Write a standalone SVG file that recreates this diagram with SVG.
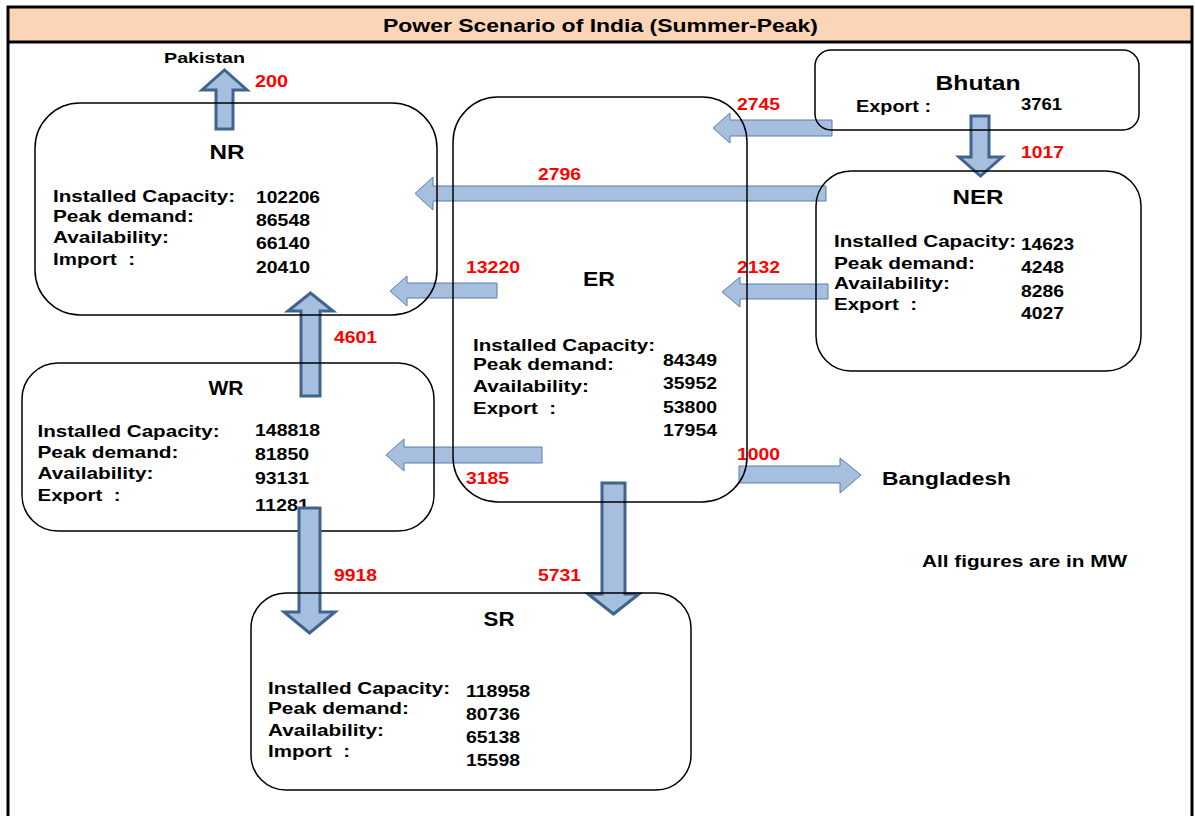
<svg xmlns="http://www.w3.org/2000/svg" width="1195" height="816" viewBox="0 0 1195 816">
<style>
text{font-family:"Liberation Sans",Arial,sans-serif;font-weight:bold;fill:#000}
.b{font-size:17px}
.p{white-space:pre}
.h{font-size:20px}
.r{font-size:17px;fill:#ff0000}
.box{fill:none;stroke:#000;stroke-width:1.5}
.ha{fill:#a7bfde;stroke:#5b7db0;stroke-width:1}
.va{fill:#a7bfde;stroke:#41648f;stroke-width:3;stroke-linejoin:miter}
</style>
<rect x="0" y="0" width="1195" height="816" fill="#fff"/>
<g id="frame">
<rect x="8" y="7" width="1184" height="35" fill="#fbd5b5"/>
<rect x="8" y="7" width="1184" height="830" fill="none" stroke="#000" stroke-width="3"/>
<line x1="8" y1="42" x2="1192" y2="42" stroke="#000" stroke-width="3"/>
<text x="383" y="32" style="font-size:18px" textLength="435" lengthAdjust="spacingAndGlyphs">Power Scenario of India (Summer-Peak)</text>
</g>
<g id="connectors">
<polygon class="ha" points="832,120 730,120 730,113 713,128 730,143 730,136 832,136"/>
<polygon class="ha" points="826,186 433,186 433,177 415,193.5 433,210 433,201 826,201"/>
<polygon class="ha" points="497,283 407,283 407,276 390,291 407,306 407,298 497,298"/>
<polygon class="ha" points="828,284 740,284 740,277 722,292 740,307 740,299 828,299"/>
<polygon class="ha" points="542,447 404,447 404,439 386,455 404,471 404,463 542,463"/>
<polygon class="ha" points="739,466 840,466 840,458 861,475 840,493 840,483 739,483"/>
<polygon class="va" points="216,129 216,90 202,90 224.5,70 247,90 233,90 233,129"/>
<polygon class="va" points="301,396 301,311 288,311 310.5,293 333,311 320,311 320,396"/>
<polygon class="va" points="602,483 602,594 588,594 613.5,614 639,594 625,594 625,483"/>
<polygon class="va" points="971,116 971,157 959,157 980.5,176 1002,157 989,157 989,116"/>
<text class="r" x="255" y="87" textLength="33" lengthAdjust="spacingAndGlyphs">200</text>
<text class="r" x="737" y="110" textLength="43" lengthAdjust="spacingAndGlyphs">2745</text>
<text class="r" x="538" y="180" textLength="43" lengthAdjust="spacingAndGlyphs">2796</text>
<text class="r" x="466" y="273" textLength="54" lengthAdjust="spacingAndGlyphs">13220</text>
<text class="r" x="737" y="273" textLength="43" lengthAdjust="spacingAndGlyphs">2132</text>
<text class="r" x="1021" y="158" textLength="43" lengthAdjust="spacingAndGlyphs">1017</text>
<text class="r" x="334" y="343" textLength="43" lengthAdjust="spacingAndGlyphs">4601</text>
<text class="r" x="466" y="484" textLength="43" lengthAdjust="spacingAndGlyphs">3185</text>
<text class="r" x="737" y="460" textLength="43" lengthAdjust="spacingAndGlyphs">1000</text>
<text class="r" x="334" y="581" textLength="43" lengthAdjust="spacingAndGlyphs">9918</text>
<text class="r" x="538" y="581" textLength="43" lengthAdjust="spacingAndGlyphs">5731</text>
</g>
<g id="pakistan">
<text x="164" y="63" style="font-size:15px" textLength="81" lengthAdjust="spacingAndGlyphs">Pakistan</text>
</g>
<g id="bangladesh">
<text x="882" y="485" style="font-size:18px" textLength="129" lengthAdjust="spacingAndGlyphs">Bangladesh</text>
</g>
<g id="note">
<text x="922" y="567" style="font-size:16px" textLength="205" lengthAdjust="spacingAndGlyphs">All figures are in MW</text>
</g>
<g id="bhutan">
<rect class="box" x="815" y="50" width="324" height="80" rx="16"/>
<text x="935.5" y="90" style="font-size:21px" textLength="85" lengthAdjust="spacingAndGlyphs">Bhutan</text>
<text class="b" x="856" y="112" textLength="75" lengthAdjust="spacingAndGlyphs">Export :</text>
<text class="b" x="1021" y="110" textLength="41" lengthAdjust="spacingAndGlyphs">3761</text>
</g>
<g id="NR">
<rect class="box" x="35" y="103" width="402" height="212" rx="45"/>
<text class="h" x="209.5" y="159" textLength="35" lengthAdjust="spacingAndGlyphs">NR</text>
<text class="b" x="53" y="202" textLength="182" lengthAdjust="spacingAndGlyphs">Installed Capacity:</text>
<text class="b" x="53" y="222" textLength="141" lengthAdjust="spacingAndGlyphs">Peak demand:</text>
<text class="b" x="53" y="243" textLength="116" lengthAdjust="spacingAndGlyphs">Availability:</text>
<text class="b p" x="53" y="265" textLength="82" lengthAdjust="spacingAndGlyphs" xml:space="preserve">Import  :</text>
<text class="b" x="256" y="203" textLength="64" lengthAdjust="spacingAndGlyphs">102206</text>
<text class="b" x="256" y="226" textLength="54" lengthAdjust="spacingAndGlyphs">86548</text>
<text class="b" x="256" y="249" textLength="54" lengthAdjust="spacingAndGlyphs">66140</text>
<text class="b" x="256" y="273" textLength="54" lengthAdjust="spacingAndGlyphs">20410</text>
</g>
<g id="ER">
<rect class="box" x="453" y="97" width="294" height="405" rx="45"/>
<text class="h" x="583" y="286" textLength="32" lengthAdjust="spacingAndGlyphs">ER</text>
<text class="b" x="473" y="351" textLength="182" lengthAdjust="spacingAndGlyphs">Installed Capacity:</text>
<text class="b" x="473" y="370" textLength="141" lengthAdjust="spacingAndGlyphs">Peak demand:</text>
<text class="b" x="473" y="392" textLength="116" lengthAdjust="spacingAndGlyphs">Availability:</text>
<text class="b p" x="473" y="414" textLength="83" lengthAdjust="spacingAndGlyphs" xml:space="preserve">Export  :</text>
<text class="b" x="663" y="366" textLength="54" lengthAdjust="spacingAndGlyphs">84349</text>
<text class="b" x="663" y="389" textLength="54" lengthAdjust="spacingAndGlyphs">35952</text>
<text class="b" x="663" y="413" textLength="54" lengthAdjust="spacingAndGlyphs">53800</text>
<text class="b" x="663" y="436" textLength="54" lengthAdjust="spacingAndGlyphs">17954</text>
</g>
<g id="NER">
<rect class="box" x="816" y="171" width="325" height="200" rx="35"/>
<text class="h" x="952.5" y="204" textLength="51" lengthAdjust="spacingAndGlyphs">NER</text>
<text class="b" x="834" y="247" textLength="182" lengthAdjust="spacingAndGlyphs">Installed Capacity:</text>
<text class="b" x="834" y="269" textLength="141" lengthAdjust="spacingAndGlyphs">Peak demand:</text>
<text class="b" x="834" y="289" textLength="116" lengthAdjust="spacingAndGlyphs">Availability:</text>
<text class="b p" x="834" y="310" textLength="83" lengthAdjust="spacingAndGlyphs" xml:space="preserve">Export  :</text>
<text class="b" x="1021" y="250" textLength="53" lengthAdjust="spacingAndGlyphs">14623</text>
<text class="b" x="1021" y="273" textLength="43" lengthAdjust="spacingAndGlyphs">4248</text>
<text class="b" x="1021" y="297" textLength="43" lengthAdjust="spacingAndGlyphs">8286</text>
<text class="b" x="1021" y="319" textLength="43" lengthAdjust="spacingAndGlyphs">4027</text>
</g>
<g id="WR">
<rect class="box" x="22" y="363" width="412" height="168" rx="36"/>
<text class="h" x="208.5" y="395" textLength="35" lengthAdjust="spacingAndGlyphs">WR</text>
<text class="b" x="37.5" y="437" textLength="182" lengthAdjust="spacingAndGlyphs">Installed Capacity:</text>
<text class="b" x="37.5" y="458" textLength="141" lengthAdjust="spacingAndGlyphs">Peak demand:</text>
<text class="b" x="37.5" y="479" textLength="116" lengthAdjust="spacingAndGlyphs">Availability:</text>
<text class="b p" x="37.5" y="501" textLength="83" lengthAdjust="spacingAndGlyphs" xml:space="preserve">Export  :</text>
<text class="b" x="255" y="436" textLength="65" lengthAdjust="spacingAndGlyphs">148818</text>
<text class="b" x="255" y="460" textLength="54" lengthAdjust="spacingAndGlyphs">81850</text>
<text class="b" x="255" y="484" textLength="54" lengthAdjust="spacingAndGlyphs">93131</text>
<text class="b" x="255" y="511" textLength="54" lengthAdjust="spacingAndGlyphs">11281</text>
</g>
<g id="connector-WR-SR">
<polygon class="va" points="299,508 299,612 284,612 309.5,633 335,612 320,612 320,508"/>
</g>
<g id="SR">
<rect class="box" x="251" y="593" width="440" height="197" rx="35"/>
<text class="h" x="483.5" y="626" textLength="31" lengthAdjust="spacingAndGlyphs">SR</text>
<text class="b" x="268" y="694" textLength="182" lengthAdjust="spacingAndGlyphs">Installed Capacity:</text>
<text class="b" x="268" y="714" textLength="141" lengthAdjust="spacingAndGlyphs">Peak demand:</text>
<text class="b" x="268" y="736" textLength="116" lengthAdjust="spacingAndGlyphs">Availability:</text>
<text class="b p" x="268" y="757" textLength="82" lengthAdjust="spacingAndGlyphs" xml:space="preserve">Import  :</text>
<text class="b" x="466" y="697" textLength="64" lengthAdjust="spacingAndGlyphs">118958</text>
<text class="b" x="466" y="720" textLength="54" lengthAdjust="spacingAndGlyphs">80736</text>
<text class="b" x="466" y="743" textLength="54" lengthAdjust="spacingAndGlyphs">65138</text>
<text class="b" x="466" y="766" textLength="54" lengthAdjust="spacingAndGlyphs">15598</text>
</g>
</svg>
